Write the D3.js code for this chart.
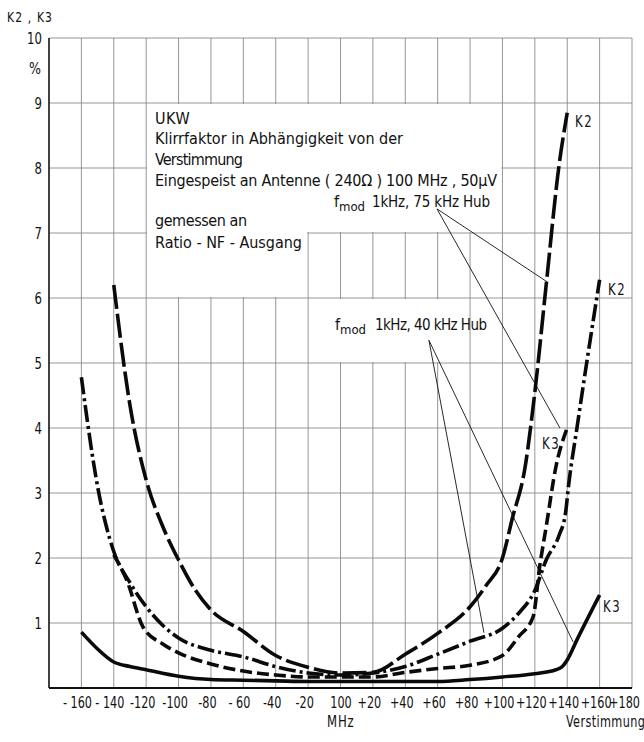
<!DOCTYPE html>
<html>
<head>
<meta charset="utf-8">
<script src="https://cdn.jsdelivr.net/npm/d3@7"></script>
<style>
body { margin: 0; background: #fff; }
svg { display: block; }
text { font-family: "DejaVu Sans Condensed", sans-serif; fill: #111; }
</style>
</head>
<body>
<svg width="644" height="742"></svg>
<script>
// axis ticks
const xTicks = [-160, -140, -120, -100, -80, -60, -40, -20, 0, 20, 40, 60, 80, 100, 120, 140, 160, 180]
const xTickLabels = ["- 160", "- 140", "-120", "-100", "-80", "- 60", "-40", "-20", "100", "+20", "+40", "+60", "+80", "+100", "+120", "+140", "+160", "+180"]
const yTicks = [1, 2, 3, 4, 5, 6, 7, 8, 9, 10]

// K2, 75 kHz Hub (long dash)
const k2Hub75X = [-140, -130, -120, -110, -100, -90, -80, -60, -40, -20, 0, 20, 40, 60, 80, 90, 100, 106, 114, 120, 127, 135, 140]
const k2Hub75Y = [6.2, 4.35, 3.2, 2.5, 1.97, 1.52, 1.2, 0.87, 0.5, 0.32, 0.23, 0.24, 0.52, 0.84, 1.25, 1.58, 2.0, 2.6, 3.4, 4.55, 6.2, 8.05, 8.85]

// K2, 40 kHz Hub (dash dot)
const k2Hub40X = [-160, -150, -140, -130, -120, -110, -100, -80, -60, -40, -20, 0, 20, 40, 60, 80, 100, 110, 120, 127, 135, 139, 141, 146, 152, 160]
const k2Hub40Y = [4.78, 3.1, 2.1, 1.62, 1.25, 0.97, 0.77, 0.58, 0.48, 0.33, 0.23, 0.2, 0.23, 0.33, 0.52, 0.72, 0.92, 1.15, 1.5, 1.97, 2.35, 2.7, 3.15, 4.0, 5.0, 6.28]

// K3, 75 kHz Hub (short dash)
const k3Hub75X = [-140, -132, -122, -110, -100, -80, -60, -40, -20, 0, 20, 40, 60, 80, 100, 110, 119, 123, 127, 133, 140]
const k3Hub75Y = [2.05, 1.66, 0.94, 0.68, 0.54, 0.37, 0.26, 0.2, 0.17, 0.17, 0.17, 0.24, 0.3, 0.35, 0.5, 0.79, 1.1, 1.87, 2.48, 3.4, 4.0]

// K3, 40 kHz Hub (solid)
const k3Hub40X = [-160, -150, -140, -130, -120, -100, -80, -60, -40, -20, 0, 20, 40, 60, 80, 100, 120, 133, 137, 140, 146, 160]
const k3Hub40Y = [0.86, 0.6, 0.4, 0.33, 0.28, 0.18, 0.13, 0.12, 0.11, 0.1, 0.1, 0.1, 0.1, 0.1, 0.13, 0.17, 0.22, 0.28, 0.33, 0.43, 0.74, 1.43]

const svg = d3.select("svg")

const plotLeft = 49, plotRight = 632, plotTop = 38, plotBottom = 688

const x = d3.scaleLinear().domain([-180, 180]).range([plotLeft, plotRight])
const y = d3.scaleLinear().domain([0, 10]).range([plotBottom, plotTop])

// stencil lettering is tall and narrow: stretch text vertically
function tallText(parent, px, py, str, size, sy) {
    return parent.append("g")
        .attr("transform", `translate(${px},${py})`)
        .append("text")
        .attr("transform", `scale(1,${sy})`)
        .style("font-size", size + "px")
        .text(str)
}

// grid
const grid = svg.append("g").attr("id", "grid")
grid.selectAll("line.v")
    .data(d3.range(-160, 181, 20))
    .enter()
    .append("line")
    .attr("class", "v")
    .attr("x1", d => x(d)).attr("x2", d => x(d))
    .attr("y1", y(10)).attr("y2", y(0))
    .style("stroke", "#8a8a8a")
    .style("stroke-width", 0.9)

grid.selectAll("line.h")
    .data(d3.range(1, 11))
    .enter()
    .append("line")
    .attr("class", "h")
    .attr("x1", x(-180)).attr("x2", x(180))
    .attr("y1", d => y(d)).attr("y2", d => y(d))
    .style("stroke", "#8a8a8a")
    .style("stroke-width", 0.9)

// white boxes behind the notes
const boxes = [
    [-120, 100, 9, 7],
    [-120, -20, 9, 6],
    [-20, 80, 6, 5]
]
svg.append("g")
    .selectAll("rect")
    .data(boxes)
    .enter()
    .append("rect")
    .attr("x", d => x(d[0]) + 1)
    .attr("y", d => y(d[2]) + 1)
    .attr("width", d => x(d[1]) - x(d[0]) - 2)
    .attr("height", d => y(d[3]) - y(d[2]) - 2)
    .style("fill", "#fff")

// frame: left and bottom axis lines
svg.append("line")
    .attr("x1", x(-180)).attr("x2", x(-180))
    .attr("y1", y(10)).attr("y2", y(0))
    .style("stroke", "#111").style("stroke-width", 1.6)
svg.append("line")
    .attr("x1", x(-180)).attr("x2", x(180))
    .attr("y1", y(0)).attr("y2", y(0))
    .style("stroke", "#111").style("stroke-width", 1.8)

// axes
const xAxis = d3.axisBottom(x)
    .tickValues(xTicks)
    .tickFormat((d, i) => xTickLabels[i])
    .tickSize(0)
    .tickPadding(9)
const xAxisG = svg.append("g")
    .attr("transform", `translate(0,${plotBottom})`)
    .call(xAxis)
xAxisG.select(".domain").remove()
xAxisG.attr("font-family", null)

function signPart(s) {
    if (!/^[-+]/.test(s)) return 0
    return s.charAt(1) === " " ? 7 : 6
}
xAxisG.selectAll("text")
    .style("font-size", "12.5px")
    .attr("y", 7.5)
    .attr("transform", "scale(1,1.25)")
    .attr("dx", (d, i) => {
        const sp = signPart(xTickLabels[i])
        let dx = sp ? -sp / 2 - 1 : 0
        if (d === 180) dx -= 4
        return dx
    })

const yAxis = d3.axisLeft(y)
    .tickValues(yTicks)
    .tickSize(0)
    .tickPadding(7)
const yAxisG = svg.append("g")
    .attr("transform", `translate(${plotLeft},0)`)
    .call(yAxis)
yAxisG.select(".domain").remove()
yAxisG.attr("font-family", null)
yAxisG.selectAll("text")
    .style("font-size", "13px")
    .attr("transform", "scale(1,1.25)")

// axis titles
tallText(svg, 7, 22, "K2 , K3", 12, 1.2)
    .attr("textLength", 45)
    .attr("lengthAdjust", "spacing")
tallText(svg, 41, 74, "%", 14, 1.1)
    .style("text-anchor", "end")
tallText(svg, 327, 727, "MHz", 13, 1.25)
    .style("letter-spacing", "0.8px")
tallText(svg, 566, 727, "Verstimmung", 12.5, 1.25)
    .style("letter-spacing", "0.4px")

// curves
const line = d3.line()
    .x(d => x(d[0]))
    .y(d => y(d[1]))
    .curve(d3.curveMonotoneX)

const curves = [
    { xs: k2Hub75X, ys: k2Hub75Y, dash: "24,5" },
    { xs: k2Hub40X, ys: k2Hub40Y, dash: "17,4,3,4" },
    { xs: k3Hub75X, ys: k3Hub75Y, dash: "12,5" },
    { xs: k3Hub40X, ys: k3Hub40Y, dash: null }
]

svg.append("g")
    .selectAll("path")
    .data(curves)
    .enter()
    .append("path")
    .attr("d", c => line(c.xs.map((v, i) => [v, c.ys[i]])))
    .style("fill", "none")
    .style("stroke", "#0a0a0a")
    .style("stroke-width", 3.6)
    .style("stroke-dasharray", c => c.dash)

// leader lines from the notes
const leaders = [
    [59.6, 7.37, 127.5, 6.25],
    [59.6, 7.37, 135.5, 4.0],
    [54.6, 5.35, 88.6, 0.85],
    [54.6, 5.35, 143.6, 0.71]
]
svg.append("g")
    .selectAll("line")
    .data(leaders)
    .enter()
    .append("line")
    .attr("x1", d => x(d[0])).attr("y1", d => y(d[1]))
    .attr("x2", d => x(d[2])).attr("y2", d => y(d[3]))
    .style("stroke", "#111")
    .style("stroke-width", 0.9)

// curve labels
const curveLabels = [
    ["K2", 575, 127],
    ["K2", 608, 295],
    ["K3", 542, 449],
    ["K3", 603, 612]
]
curveLabels.forEach(d => {
    tallText(svg, d[1], d[2], d[0], 13, 1.25).style("letter-spacing", "1.5px")
})

// note text
const notes = [
    ["UKW", 155, 124, 0],
    ["Klirrfaktor in Abhängigkeit von der", 155, 144, 248],
    ["Verstimmung", 155, 165, 88],
    ["Eingespeist an Antenne ( 240Ω ) 100 MHz , 50µV", 155, 186, 342],
    ["gemessen an", 155, 226, 92],
    ["Ratio - NF - Ausgang", 155, 248, 147]
]
svg.append("g")
    .selectAll("text")
    .data(notes)
    .enter()
    .append("text")
    .attr("x", d => d[1]).attr("y", d => d[2])
    .attr("textLength", d => d[3] || null)
    .attr("lengthAdjust", "spacing")
    .style("font-size", "16px")
    .style("letter-spacing", d => d[3] ? null : "0.5px")
    .text(d => d[0])

function fmod(g, x0, base, rest, restX, restLen) {
    g.append("text").attr("x", x0).attr("y", base).style("font-size", "16px").text("f")
    g.append("text").attr("x", x0 + 5).attr("y", base + 4).style("font-size", "13px").text("mod")
    g.append("text").attr("x", restX).attr("y", base)
        .attr("textLength", restLen).attr("lengthAdjust", "spacing")
        .style("font-size", "15px").text(rest)
}
const noteG = svg.append("g")
fmod(noteG, 334, 207, "1kHz,  75 kHz  Hub", 372, 118)
fmod(noteG, 335, 330, "1kHz,  40 kHz  Hub", 375, 112)
</script>
</body>
</html>
